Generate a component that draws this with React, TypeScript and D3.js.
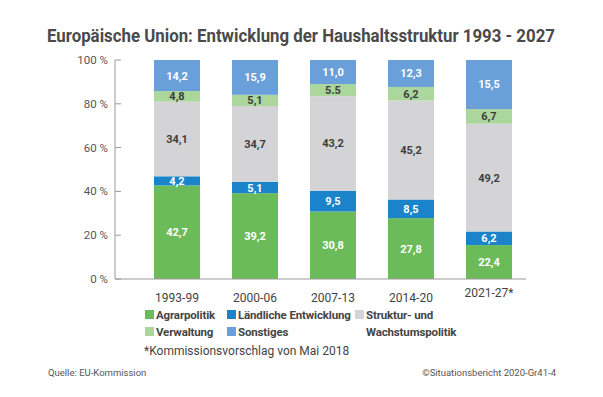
import React from "react";
import * as d3 from "d3";

// Zeiträume (x-Achse)
const periods = ["1993-99", "2000-06", "2007-13", "2014-20", "2021-27*"];

// Anteile am Haushalt in % (wie beschriftet)
const agrarpolitik = [42.7, 39.2, 30.8, 27.8, 22.4];
const laendlicheEntwicklung = [4.2, 5.1, 9.5, 8.5, 6.2];
const strukturpolitik = [34.1, 34.7, 43.2, 45.2, 49.2];
const verwaltung = [4.8, 5.1, 5.5, 6.2, 6.7];
const sonstiges = [14.2, 15.9, 11.0, 12.3, 15.5];

const yTicks = [0, 20, 40, 60, 80, 100];

// in der Originalgrafik sind im letzten Balken Agrar und Sonstiges mit vertauschten Höhen gezeichnet
const swappedPeriods = ["2021-27*"];
// eine Beschriftung steht dort mit Punkt statt Komma
const dotLabels = ["2007-13|Verwaltung"];

const series = [
  { key: "Agrarpolitik", values: agrarpolitik, color: "#6cbb5b", text: "#ffffff" },
  { key: "Ländliche Entwicklung", values: laendlicheEntwicklung, color: "#1a83c9", text: "#ffffff" },
  { key: "Struktur- und Wachstumspolitik", values: strukturpolitik, color: "#d4d4d6", text: "#3d3d3d" },
  { key: "Verwaltung", values: verwaltung, color: "#abd79c", text: "#3d3d3d" },
  { key: "Sonstiges", values: sonstiges, color: "#6aa0da", text: "#ffffff" },
];

const FONT = "Roboto, 'Noto Sans', sans-serif";

export default function App() {
  const width = 603;
  const height = 397;

  const x = d3
    .scaleBand<string>()
    .domain(periods)
    .range([138, 528])
    .paddingInner(0.41)
    .paddingOuter(0.205);

  const y = d3.scaleLinear().domain([0, 100]).range([279, 60]);

  // Tabelle für d3.stack (Höhen wie gezeichnet)
  const rows = periods.map((p, i) => {
    const row: any = { period: p };
    series.forEach((s) => (row[s.key] = s.values[i]));
    if (swappedPeriods.includes(p)) {
      const a = row["Agrarpolitik"];
      row["Agrarpolitik"] = row["Sonstiges"];
      row["Sonstiges"] = a;
    }
    return row;
  });

  const stack = d3.stack<any>().keys(series.map((s) => s.key));
  const layers = stack(rows);

  const fmt = (v: number, period: string, key: string) => {
    const t = v.toFixed(1);
    return dotLabels.includes(`${period}|${key}`) ? t : t.replace(".", ",");
  };

  const legend = [
    { s: series[0], x: 145, y: 315 },
    { s: series[1], x: 227, y: 315 },
    { s: series[2], x: 355, y: 315, lines: ["Struktur- und", "Wachstumspolitik"] },
    { s: series[3], x: 145, y: 332 },
    { s: series[4], x: 227, y: 332 },
  ];

  return (
    <svg width={width} height={height} style={{ display: "block", position: "absolute", left: 0, top: 0, background: "#fff" }}>
      <text
        x={301}
        y={42}
        textAnchor="middle"
        fontFamily={FONT}
        fontWeight="bold"
        fontSize={18}
        fill="#4a4a4a"
        textLength={508}
        lengthAdjust="spacingAndGlyphs"
      >
        Europäische Union: Entwicklung der Haushaltsstruktur 1993 - 2027
      </text>

      {/* Balken */}
      {layers.map((layer, li) => (
        <g key={layer.key}>
          {layer.map((d, i) => (
            <rect
              key={periods[i]}
              x={x(periods[i])}
              y={y(d[1])}
              width={x.bandwidth()}
              height={y(d[0]) - y(d[1])}
              fill={series[li].color}
            />
          ))}
        </g>
      ))}

      {/* Werte */}
      {layers.map((layer, li) => (
        <g key={layer.key + "-lbl"}>
          {layer.map((d, i) => (
            <text
              key={periods[i]}
              x={(x(periods[i]) ?? 0) + x.bandwidth() / 2}
              y={(y(d[0]) + y(d[1])) / 2}
              dy="0.36em"
              textAnchor="middle"
              fontFamily={FONT}
              fontWeight="bold"
              fontSize={11}
              fill={series[li].text}
            >
              {fmt(series[li].values[i], periods[i], series[li].key)}
            </text>
          ))}
        </g>
      ))}

      {/* Achsen */}
      <line x1={115} x2={115} y1={y(100)} y2={y(0)} stroke="#9a9a9a" strokeWidth={1} />
      <line x1={115} x2={526} y1={y(0)} y2={y(0)} stroke="#9a9a9a" strokeWidth={1} />
      {yTicks.map((t) => (
        <g key={t}>
          <line x1={115} x2={121} y1={y(t)} y2={y(t)} stroke="#9a9a9a" />
          <text
            x={108}
            y={y(t)}
            dy="0.35em"
            textAnchor="end"
            fontFamily={FONT}
            fontSize={11.5}
            fill="#555"
          >
            {`${t} %`}
          </text>
        </g>
      ))}
      {periods.map((p) => (
        <text
          key={p}
          x={(x(p) ?? 0) + x.bandwidth() / 2}
          y={p.endsWith("*") ? 297 : 302}
          textAnchor="middle"
          fontFamily={FONT}
          fontSize={12}
          fill="#444"
        >
          {p}
        </text>
      ))}

      {/* Legende */}
      {legend.map((l) => (
        <g key={l.s.key}>
          <rect x={l.x} y={l.y - 5} width={9} height={9} fill={l.s.color} />
          {(l.lines ?? [l.s.key]).map((line, j) => (
            <text
              key={line}
              x={l.x + 11}
              y={l.y + j * 17}
              dy="0.35em"
              fontFamily={FONT}
              fontWeight="bold"
              fontSize={11.5}
              letterSpacing={-0.15}
              fill="#444"
            >
              {line}
            </text>
          ))}
        </g>
      ))}

      <text x={144} y={351} dy="0.35em" fontFamily={FONT} fontSize={12} fill="#444">
        *Kommissionsvorschlag von Mai 2018
      </text>

      <text x={48} y={373} dy="0.35em" fontFamily={FONT} fontSize={9.5} fill="#555">
        Quelle: EU-Kommission
      </text>
      <text x={556} y={373} dy="0.35em" textAnchor="end" fontFamily={FONT} fontSize={9.5} fill="#555">
        ©Situationsbericht 2020-Gr41-4
      </text>
    </svg>
  );
}
